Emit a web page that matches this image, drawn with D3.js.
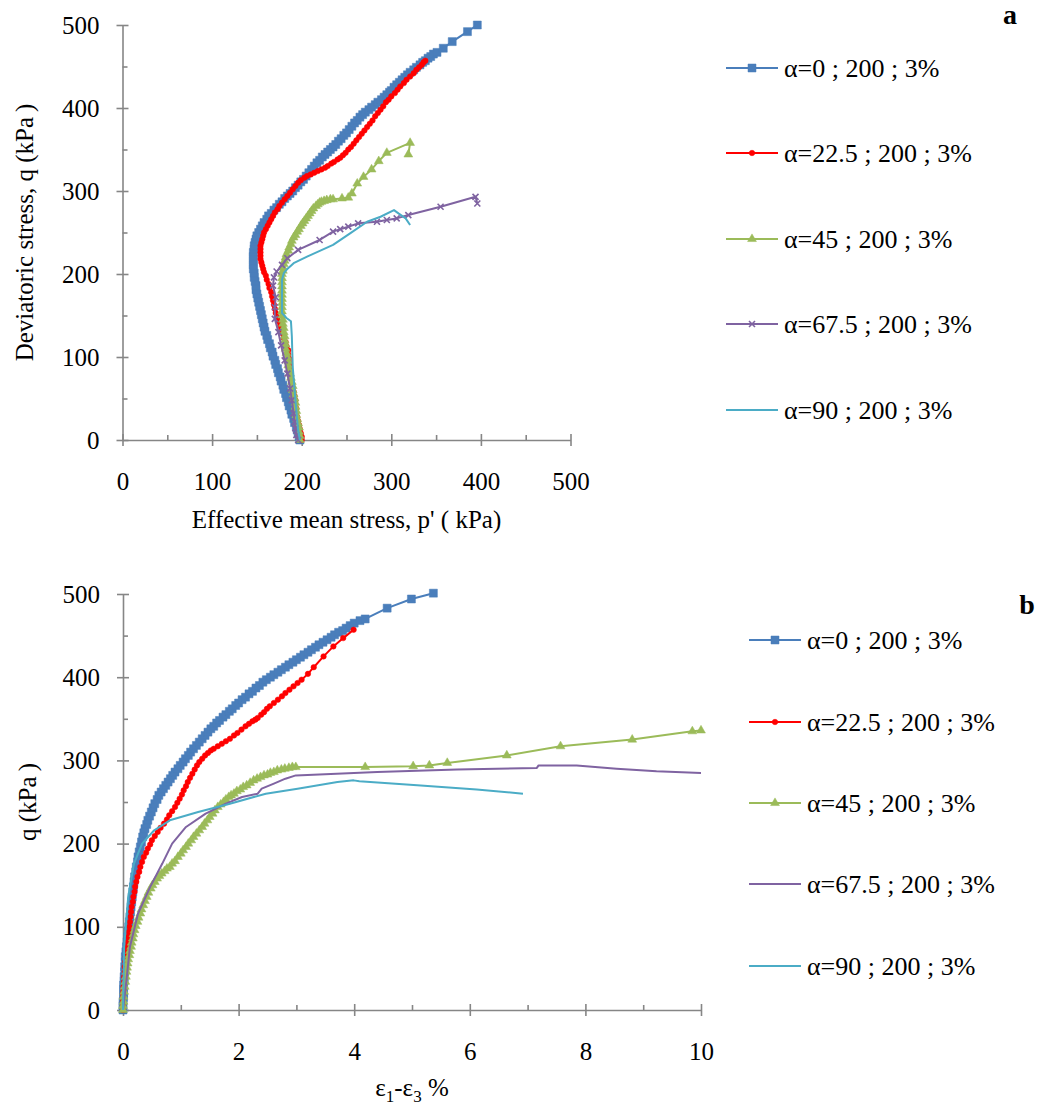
<!DOCTYPE html>
<html>
<head>
<meta charset="UTF-8">
<title>Stress paths and stress-strain curves</title>
<script src="https://d3js.org/d3.v7.min.js"></script>
<style>
  body { margin: 0; background: #fff; }
  svg text { font-family: "Liberation Serif", "Times New Roman", Times, "DejaVu Serif", serif; fill: #000; }
  .axis path, .axis line { stroke: #868686; stroke-width: 1.6px; }
  .axis text { font-size: 25px; }
  .title { font-size: 25px; }
  .legend text { font-size: 26px; }
</style>
</head>
<body>
<svg id="chart" width="1040" height="1106"></svg>
<script>
// series names and colours
const legendLabels = ["α=0 ; 200 ; 3%", "α=22.5 ; 200 ; 3%", "α=45 ; 200 ; 3%", "α=67.5 ; 200 ; 3%", "α=90 ; 200 ; 3%"];
const colors = ["#4A7EBB", "#FF0000", "#9BBB59", "#7F63A1", "#4BACC6"];

// panel a: [p', q]
const pq0 = [[198,0],[197,4],[196,8],[195,12],[194,16],[192,21],[191,26],[189,31],[188,36],[186,41],[185,46],[183,51],[182,56],[180,61],[179,66],[177,71],[176,76],[174,81],[173,86],[171,91],[170,96],[168,101],[167,106],[165,111],[164,116],[162,121],[161,126],[159,131],[158,136],[157,141],[156,146],[155,151],[154,156],[153,161],[152,166],[151,171],[150,176],[149,181],[149,186],[148,191],[147,196],[147,201],[146,206],[146,211],[146,216],[146,221],[146,226],[147,230],[147,234],[148,238],[149,242],[150,246],[152,250],[154,254],[156,258],[158,262],[161,266],[163,270],[166,273],[169,277],[172,280],[175,284],[178,287],[181,291],[184,294],[187,297],[190,300],[193,304],[196,307],[199,311],[202,314],[205,318],[208,322],[211,326],[214,330],[217,334],[220,337],[223,341],[226,344],[229,347],[232,350],[235,353],[238,356],[241,360],[244,363],[247,367],[250,370],[253,374],[256,378],[259,382],[262,385],[265,389],[268,392],[271,395],[275,398],[278,401],[282,404],[285,407],[289,410],[292,413],[295,416],[298,419],[300,421],[303,425],[306,428],[309,431],[312,434],[315,437],[318,440],[321,443],[325,446],[328,449],[332,452],[335,455],[338,457],[341,460],[344,462],[347,465],[351,467],[358,472],[368,480],[385,492],[396,500]];
const pq225 = [[200,0],[200,4],[199,8],[198,13],[197,18],[196,23],[195,28],[194,33],[194,38],[193,43],[193,48],[192,53],[191,58],[190,63],[189,68],[188,73],[188,78],[187,83],[187,88],[186,93],[186,98],[185,103],[185,108],[183,113],[182,118],[180,123],[179,128],[177,133],[176,138],[174,143],[173,148],[171,153],[170,158],[169,163],[168,168],[167,173],[166,178],[164,183],[163,188],[161,193],[160,198],[158,202],[157,206],[156,210],[155,214],[154,218],[154,222],[154,226],[154,230],[154,234],[155,238],[156,242],[157,246],[158,250],[160,254],[162,258],[164,262],[166,266],[168,270],[170,274],[173,278],[175,282],[178,286],[181,290],[184,294],[187,298],[190,302],[193,306],[196,310],[199,313],[203,316],[206,318],[210,320],[214,322],[218,324],[222,326],[226,328],[229,330],[233,333],[236,335],[240,338],[243,340],[246,343],[249,346],[252,350],[255,353],[258,357],[261,361],[264,365],[267,369],[270,373],[273,377],[276,381],[279,385],[282,390],[285,394],[288,398],[291,402],[294,407],[297,410],[300,414],[304,418],[307,422],[310,426],[314,430],[317,434],[321,438],[325,442],[328,446],[331,449],[334,452],[336,455],[338,457]];
const pq45 = [[198,0],[198,5],[197,10],[197,15],[196,20],[195,25],[194,30],[194,35],[193,40],[193,45],[192,50],[191,55],[190,60],[190,65],[189,70],[188,75],[187,80],[186,85],[185,90],[185,95],[184,100],[183,105],[182,110],[182,115],[181,120],[181,125],[180,130],[180,135],[179,140],[179,145],[178,150],[178,155],[178,160],[178,165],[178,170],[178,175],[178,180],[178,185],[178,190],[178,195],[178,200],[179,204],[179,208],[180,212],[181,216],[182,220],[183,224],[185,228],[186,232],[188,236],[189,240],[191,244],[193,247],[195,251],[197,254],[199,258],[201,261],[203,264],[205,267],[207,270],[209,273],[211,276],[213,279],[216,282],[218,284],[220,286],[222,287],[225,288],[228,289],[232,290],[235,290],[245,291],[252,292],[256,297],[262,309],[269,317],[278,326],[286,336],[295,346],[321,358],[319,344]];
const pq675 = [[196,0],[194,6],[193,14],[192,22],[191,32],[189,48],[187,62],[184,80],[181,96],[177,114],[174,130],[170,146],[170,160],[171,172],[168,186],[169,196],[172,203],[178,211],[184,219],[196,229],[220,241],[235,251],[243,254],[252,257],[263,261],[284,263],[295,265],[306,267],[319,271],[355,281],[394,293],[396,285]];
const pq90 = [[198,0],[196,12],[193,48],[190,88],[189,125],[188,143],[183,147],[178,153],[178,177],[178,193],[180,201],[183,205],[191,213],[206,221],[235,235],[254,249],[273,263],[288,269],[303,277],[308,273],[316,267],[321,259]];

// panel b: [ε1-ε3 %, q]
const eq0 = [[0,0],[0,5],[0,10],[0.01,15],[0.01,20],[0.01,25],[0.01,30],[0.02,35],[0.02,40],[0.03,46],[0.03,52],[0.04,58],[0.04,64],[0.05,70],[0.06,76],[0.07,82],[0.08,88],[0.09,94],[0.1,100],[0.11,106],[0.12,112],[0.13,118],[0.14,124],[0.15,130],[0.16,136],[0.17,142],[0.18,148],[0.19,154],[0.2,160],[0.22,166],[0.23,172],[0.25,178],[0.26,184],[0.28,190],[0.3,196],[0.32,202],[0.34,208],[0.36,213],[0.38,218],[0.41,223],[0.43,228],[0.46,233],[0.49,238],[0.52,243],[0.55,248],[0.59,253],[0.62,258],[0.66,262],[0.7,266],[0.74,270],[0.78,274],[0.82,278],[0.86,282],[0.9,286],[0.95,290],[0.99,294],[1.04,298],[1.08,302],[1.13,306],[1.17,310],[1.22,314],[1.27,318],[1.32,322],[1.37,326],[1.42,330],[1.47,334],[1.52,338],[1.57,341],[1.62,345],[1.67,348],[1.73,352],[1.78,355],[1.84,359],[1.89,362],[1.95,366],[2.0,369],[2.06,373],[2.12,376],[2.18,380],[2.24,383],[2.3,387],[2.36,390],[2.42,394],[2.48,397],[2.55,400],[2.61,403],[2.68,406],[2.74,409],[2.81,412],[2.87,415],[2.94,418],[3.0,421],[3.07,424],[3.13,427],[3.2,430],[3.26,433],[3.33,436],[3.39,439],[3.46,442],[3.53,445],[3.6,448],[3.66,451],[3.73,454],[3.8,456],[3.86,459],[3.93,462],[4.0,465],[4.1,468],[4.19,470],[4.57,483],[4.99,494],[5.37,501]];
const eq225 = [[0,0],[0,5],[0,10],[0,15],[0,20],[0.01,24],[0.01,28],[0.02,34],[0.02,40],[0.03,46],[0.03,52],[0.04,58],[0.05,64],[0.06,70],[0.07,76],[0.08,82],[0.09,88],[0.1,94],[0.11,100],[0.12,106],[0.13,112],[0.14,118],[0.15,124],[0.17,130],[0.18,136],[0.2,142],[0.21,148],[0.23,154],[0.25,160],[0.28,166],[0.3,172],[0.33,178],[0.36,184],[0.4,189],[0.43,194],[0.47,199],[0.5,204],[0.55,209],[0.6,214],[0.65,219],[0.71,224],[0.76,229],[0.8,234],[0.85,239],[0.9,244],[0.94,249],[0.98,254],[1.02,259],[1.05,264],[1.09,269],[1.12,274],[1.16,279],[1.2,284],[1.24,289],[1.28,294],[1.32,298],[1.37,302],[1.42,306],[1.47,309],[1.52,312],[1.57,314],[1.64,317],[1.71,320],[1.78,323],[1.85,326],[1.92,330],[1.98,333],[2.05,337],[2.12,341],[2.18,344],[2.24,347],[2.29,349],[2.33,351],[2.39,355],[2.44,358],[2.49,362],[2.54,365],[2.61,369],[2.68,373],[2.75,377],[2.81,381],[2.88,385],[2.95,389],[3.02,393],[3.09,397],[3.2,404],[3.3,412],[3.47,425],[3.64,437],[3.81,447],[3.99,457]];
const eq45 = [[0,0],[0,5],[0.01,10],[0.01,16],[0.02,22],[0.03,28],[0.04,34],[0.05,40],[0.06,46],[0.07,51],[0.08,56],[0.09,61],[0.11,66],[0.12,71],[0.14,76],[0.15,81],[0.17,86],[0.18,91],[0.2,96],[0.22,101],[0.25,106],[0.27,111],[0.3,116],[0.32,121],[0.35,126],[0.38,131],[0.41,136],[0.44,141],[0.48,146],[0.51,150],[0.55,154],[0.59,158],[0.63,161],[0.67,164],[0.72,167],[0.76,170],[0.81,172],[0.85,176],[0.9,179],[0.95,184],[1.0,188],[1.04,192],[1.09,196],[1.13,200],[1.18,204],[1.22,208],[1.27,212],[1.32,216],[1.37,220],[1.41,224],[1.46,228],[1.5,232],[1.55,236],[1.59,240],[1.64,244],[1.69,247],[1.74,250],[1.78,253],[1.83,256],[1.87,258],[1.92,260],[1.97,263],[2.03,265],[2.08,268],[2.14,270],[2.2,273],[2.26,276],[2.32,278],[2.38,280],[2.44,282],[2.5,283],[2.55,285],[2.61,286],[2.67,288],[2.74,289],[2.8,290],[2.87,291],[2.93,292],[2.99,292],[4.19,292],[5.02,293],[5.3,294],[5.61,297],[6.64,306],[7.57,317],[8.81,325],[9.85,335],[10,336]];
const eq675 = [[0,0],[0.06,36],[0.12,76],[0.26,116],[0.47,148],[0.68,176],[0.85,200],[1.09,220],[1.43,236],[1.78,248],[2.06,256],[2.33,260],[2.4,266],[2.61,272],[2.81,278],[2.99,282],[4.4,286],[5.78,289],[7.16,291],[7.19,294],[7.85,294],[8.54,290],[9.23,287],[10,285]];
const eq90 = [[0,0],[0.02,76],[0.09,136],[0.19,176],[0.33,200],[0.54,216],[0.81,228],[1.3,238],[1.85,248],[2.47,260],[3.02,266],[3.71,274],[3.99,276],[4.09,275],[5.09,270],[6.12,265],[6.92,260]];

// axis ticks
const qTicks = [0, 100, 200, 300, 400, 500];
const qMinor = [50, 150, 250, 350, 450];
const pTicks = [0, 100, 200, 300, 400, 500];
const pMinor = [50, 150, 250, 350, 450];
const eTicks = [0, 2, 4, 6, 8, 10];
const eMinor = [1, 3, 5, 7, 9];

const svg = d3.select("#chart");

function markerPath(type) {
  if (type === "square") return "M-4,-4h8v8h-8Z";
  if (type === "circle") return d3.symbol().type(d3.symbolCircle).size(24)();
  if (type === "triangle") return d3.symbol().type(d3.symbolTriangle).size(34)();
  if (type === "x") return "M-3,-3L3,3M-3,3L3,-3";
  return null;
}

function drawPanel(cfg) {
  const g = svg.append("g");
  const x = d3.scaleLinear().domain(cfg.xDomain).range(cfg.xRange);
  const y = d3.scaleLinear().domain([0, 500]).range(cfg.yRange);
  const y0 = y(0), x0 = x(cfg.xDomain[0]);

  // minor ticks (inside only)
  g.append("g").attr("class", "axis").attr("transform", `translate(0,${y0})`)
    .call(d3.axisBottom(x).tickValues(cfg.xMinor).tickSize(-5).tickFormat(""))
    .select(".domain").remove();
  g.append("g").attr("class", "axis").attr("transform", `translate(${x0},0)`)
    .call(d3.axisLeft(y).tickValues(qMinor).tickSize(-5).tickFormat(""))
    .select(".domain").remove();

  // major ticks crossing the axis
  const xa = g.append("g").attr("class", "axis").attr("transform", `translate(0,${y0})`)
    .call(d3.axisBottom(x).tickValues(cfg.xTicks).tickSize(6).tickSizeOuter(0).tickPadding(26));
  xa.selectAll(".tick line").attr("y1", -6);
  const ya = g.append("g").attr("class", "axis").attr("transform", `translate(${x0},0)`)
    .call(d3.axisLeft(y).tickValues(qTicks).tickSize(6).tickSizeOuter(0).tickPadding(17));
  ya.selectAll(".tick line").attr("x1", 6);
  g.selectAll(".axis").attr("font-family", null);

  // axis titles
  g.append("text").attr("class", "title")
    .attr("transform", `translate(${cfg.yTitleX},${(cfg.yRange[0] + cfg.yRange[1]) / 2}) rotate(-90)`)
    .attr("text-anchor", "middle").text(cfg.yTitle);
  const xt = g.append("text").attr("class", "title")
    .attr("x", (cfg.xRange[0] + cfg.xRange[1]) / 2).attr("y", cfg.xTitleY)
    .attr("text-anchor", "middle");
  cfg.xTitle(xt);

  // series
  const line = d3.line().x(d => x(d[0])).y(d => y(d[1]));
  cfg.series.forEach((s, i) => {
    g.append("path").datum(s).attr("d", line)
      .attr("fill", "none").attr("stroke", colors[i])
      .attr("stroke-width", 2)
      .attr("stroke-linejoin", "round");
    const m = cfg.markers[i];
    if (!m) return;
    g.append("g").selectAll("path").data(s).join("path")
      .attr("transform", d => `translate(${x(d[0])},${y(d[1])})`)
      .attr("d", markerPath(m))
      .attr("fill", m === "x" ? "none" : colors[i])
      .attr("stroke", colors[i])
      .attr("stroke-width", m === "x" ? 1.6 : 0.5);
  });

  // legend
  const lg = g.append("g").attr("class", "legend");
  legendLabels.forEach((lab, i) => {
    const ly = cfg.legendY[i];
    lg.append("line").attr("x1", cfg.legendX).attr("x2", cfg.legendX + 52)
      .attr("y1", ly).attr("y2", ly).attr("stroke", colors[i]).attr("stroke-width", 2);
    const m = cfg.markers[i];
    if (m) {
      lg.append("path").attr("transform", `translate(${cfg.legendX + 26},${ly})`)
        .attr("d", markerPath(m))
        .attr("fill", m === "x" ? "none" : colors[i])
        .attr("stroke", colors[i]).attr("stroke-width", m === "x" ? 1.6 : 0.5);
    }
    lg.append("text").attr("x", cfg.legendX + 58).attr("y", ly + 9).text(lab);
  });

  g.append("text").attr("x", cfg.tag[0]).attr("y", cfg.tag[1])
    .attr("text-anchor", "middle").attr("font-weight", "bold")
    .attr("font-size", 28).text(cfg.tag[2]);
}

drawPanel({
  xDomain: [0, 500], xRange: [122.5, 570.5], yRange: [440, 25],
  xTicks: pTicks, xMinor: pMinor,
  series: [pq0, pq225, pq45, pq675, pq90],
  markers: ["square", "circle", "triangle", "x", null],
  yTitle: "Deviatoric stress, q (kPa\u2009)", yTitleX: 33,
  xTitleY: 528,
  xTitle: t => t.text("Effective mean stress, p' ( kPa)"),
  legendX: 726, legendY: [68, 153, 239, 324, 410],
  tag: [1010, 24, "a"]
});

drawPanel({
  xDomain: [0, 10], xRange: [123, 701], yRange: [1010, 594],
  xTicks: eTicks, xMinor: eMinor,
  series: [eq0, eq225, eq45, eq675, eq90],
  markers: ["square", "circle", "triangle", null, null],
  yTitle: "q (kPa\u2009)", yTitleX: 36,
  xTitleY: 1096,
  xTitle: t => {
    t.append("tspan").text("ε");
    t.append("tspan").attr("font-size", 17).attr("dy", 6).text("1");
    t.append("tspan").attr("dy", -6).text("-ε");
    t.append("tspan").attr("font-size", 17).attr("dy", 6).text("3");
    t.append("tspan").attr("dy", -6).text(" %");
  },
  legendX: 749, legendY: [640, 722, 803, 884, 966],
  tag: [1027, 614, "b"]
});
</script>
</body>
</html>
